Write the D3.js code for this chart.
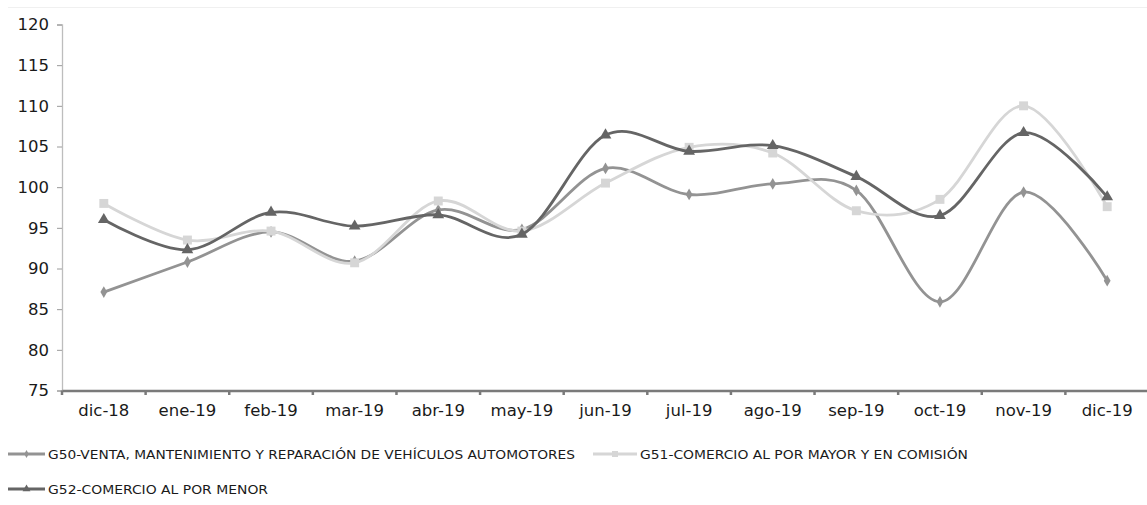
<!DOCTYPE html>
<html>
<head>
<meta charset="utf-8">
<script src="https://cdn.jsdelivr.net/npm/d3@7"></script>
<style>
  html, body { margin: 0; padding: 0; background: #fff; }
  svg { display: block; }
  text { font-family: "DejaVu Sans", sans-serif; fill: #1a1a1a; }
</style>
</head>
<body>
<svg id="chart" width="1147" height="505"></svg>
<script>
// Monthly index by commerce division, Dec 2018 - Dec 2019
const months = ["dic-18","ene-19","feb-19","mar-19","abr-19","may-19","jun-19","jul-19","ago-19","sep-19","oct-19","nov-19","dic-19"];
const g50 = [87.1, 90.8, 94.5, 90.9, 97.2, 94.8, 102.3, 99.1, 100.4, 99.6, 85.9, 99.4, 88.5];
const g51 = [98.0, 93.5, 94.6, 90.7, 98.3, 94.6, 100.5, 104.9, 104.2, 97.1, 98.5, 110.0, 97.6];
const g52 = [96.0, 92.3, 96.9, 95.2, 96.6, 94.2, 106.4, 104.4, 105.1, 101.3, 96.5, 106.7, 98.8];
const yTicks = [75, 80, 85, 90, 95, 100, 105, 110, 115, 120];
const seriesNames = [
  "G50-VENTA, MANTENIMIENTO Y REPARACIÓN DE VEHÍCULOS AUTOMOTORES",
  "G51-COMERCIO AL POR MAYOR Y EN COMISIÓN",
  "G52-COMERCIO AL POR MENOR"
];

const series = [
  { name: seriesNames[0], values: g50, color: "#939393", marker: "diamond", size: 40 },
  { name: seriesNames[1], values: g51, color: "#d6d6d6", marker: "square",  size: 80 },
  { name: seriesNames[2], values: g52, color: "#656565", marker: "triangle", size: 60 }
];

const svg = d3.select("#chart");
const plotLeft = 62, plotRight = 1149, plotTop = 24.5, plotBottom = 390.5;

const x = d3.scaleBand().domain(months).range([plotLeft, plotRight]);
const y = d3.scaleLinear().domain([75, 120]).range([plotBottom, plotTop]);

// faint frame line along the top
svg.append("line")
  .attr("x1", 8).attr("x2", 1147).attr("y1", 7.5).attr("y2", 7.5)
  .attr("stroke", "#f0f0f0").attr("stroke-width", 1);

// y axis
const yAxis = svg.append("g")
  .attr("transform", `translate(${plotLeft},0)`)
  .call(d3.axisLeft(y).tickValues(yTicks).tickSize(5).tickPadding(8));
yAxis.select(".domain").attr("stroke", "#bdbdbd").attr("stroke-width", 1.3);
yAxis.selectAll(".tick line").attr("stroke", "#9a9a9a");
yAxis.selectAll(".tick text")
  .attr("font-size", 16.5).attr("fill", "#1a1a1a")
  .attr("font-family", "DejaVu Sans, sans-serif");

// x axis
const xAxis = svg.append("g")
  .attr("transform", `translate(0,${plotBottom})`)
  .call(d3.axisBottom(x).tickSizeOuter(0).tickSize(0).tickPadding(14));
xAxis.select(".domain").attr("stroke", "#7a7a7a").attr("stroke-width", 2.5);
xAxis.selectAll(".tick text")
  .attr("font-size", 16.5).attr("fill", "#1a1a1a")
  .attr("font-family", "DejaVu Sans, sans-serif");

// category boundary tick marks below the x axis
svg.append("g").selectAll("line")
  .data(months)
  .join("line")
  .attr("x1", d => x(d)).attr("x2", d => x(d))
  .attr("y1", plotBottom).attr("y2", plotBottom + 4.5)
  .attr("stroke", "#7a7a7a").attr("stroke-width", 2.5);

const line = d3.line()
  .x((d, i) => x(months[i]) + x.bandwidth() / 2)
  .y(d => y(d))
  .curve(d3.curveCardinal.tension(0));

const symbolType = { diamond: d3.symbolDiamond, square: d3.symbolSquare, triangle: d3.symbolTriangle };

series.forEach(s => {
  const g = svg.append("g");
  g.append("path")
    .attr("d", line(s.values))
    .attr("fill", "none")
    .attr("stroke", s.color)
    .attr("stroke-width", 2.8)
    .attr("stroke-linejoin", "round");
  g.selectAll("path.pt")
    .data(s.values)
    .join("path")
    .attr("class", "pt")
    .attr("transform", (d, i) => `translate(${x(months[i]) + x.bandwidth() / 2},${y(d)})`)
    .attr("d", d3.symbol().type(symbolType[s.marker]).size(s.size))
    .attr("fill", s.color);
});

// legend
const legendItems = [
  { s: series[0], lx: 8,   ly: 454, tx: 48,  w: 527 },
  { s: series[1], lx: 593, ly: 454, tx: 640, w: 328 },
  { s: series[2], lx: 8,   ly: 489, tx: 48,  w: 220 }
];
legendItems.forEach(it => {
  const g = svg.append("g");
  g.append("line")
    .attr("x1", it.lx).attr("x2", it.tx - 3)
    .attr("y1", it.ly).attr("y2", it.ly)
    .attr("stroke", it.s.color).attr("stroke-width", 2.8);
  g.append("path")
    .attr("transform", `translate(${(it.lx + it.tx - 3) / 2},${it.ly})`)
    .attr("d", d3.symbol().type(symbolType[it.s.marker]).size(it.s.size * 0.45))
    .attr("fill", it.s.color);
  g.append("text")
    .attr("x", it.tx).attr("y", it.ly + 4.6)
    .attr("font-size", 12.5)
    .attr("textLength", it.w)
    .attr("lengthAdjust", "spacingAndGlyphs")
    .text(it.s.name);
});
</script>
</body>
</html>
